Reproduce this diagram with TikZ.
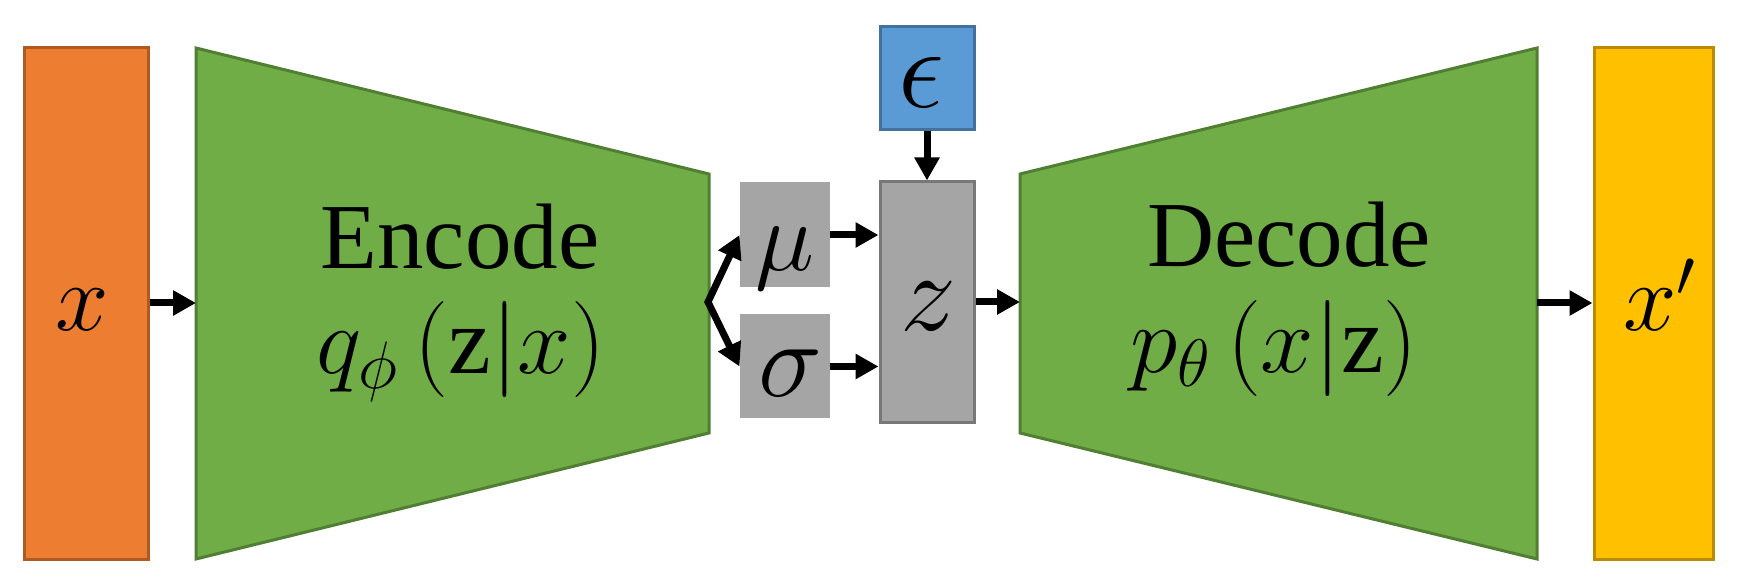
\RequirePackage{fix-cm}
\documentclass[tikz,border=0pt]{standalone}
\usepackage{fontspec}
\setmainfont{Liberation Serif}
\usetikzlibrary{arrows.meta}
\definecolor{orfill}{HTML}{ED7D31}
\definecolor{ordraw}{HTML}{AE5A21}
\definecolor{grfill}{HTML}{70AD47}
\definecolor{grdraw}{HTML}{507E32}
\definecolor{gyfill}{HTML}{A5A5A5}
\definecolor{gydraw}{HTML}{787878}
\definecolor{blfill}{HTML}{5B9BD5}
\definecolor{bldraw}{HTML}{41719C}
\definecolor{yefill}{HTML}{FFC000}
\definecolor{yedraw}{HTML}{BC8C00}
\tikzset{
  bigfont/.style={font=\fontsize{46.5pt}{54pt}\selectfont},
  fsize/.style={font=\fontsize{#1}{1.2\dimexpr#1\relax}\selectfont},
  box/.style={draw, line width=1.5pt, inner sep=0pt},
  trap/.style={fill=grfill, draw=grdraw, line width=1.5pt, line join=miter},
  txt/.style={inner sep=0pt, bigfont},
  arr/.style={line width=3.5pt, -{Triangle[length=11.5pt,width=12pt]}},
  arrtwo/.style={line width=3.5pt, line join=miter, {Triangle[length=11.5pt,width=12pt]}-{Triangle[length=11.5pt,width=12pt]}}
}
\begin{document}
\begin{tikzpicture}[x=0.5pt,y=-0.5pt]
\useasboundingbox (0,0) rectangle (1742,588);
% input x
\node[box, fill=orfill, draw=ordraw, minimum width=62pt, minimum height=255.5pt] (xin) at (86,303.5) {};
\node[txt, fsize=48pt, anchor=base] (xlab) at (82,331) {$x$};
% encoder
\draw[trap] (196,48) -- (709,174) -- (709,433) -- (196,559) -- cycle;
\coordinate (encL) at (196,303);
\coordinate (encR) at (708,302);
\node[txt, anchor=base] (enct) at (460,269) {Encode};
\node[txt, fsize=48pt, anchor=base] (encq) at (461,374) {$q_{\phi}\,(\mathrm{z}|x)$};
% mu, sigma
\node[box, fill=gyfill, draw=gyfill, minimum width=43.5pt, minimum height=51pt] (mu) at (784.5,235) {};
\node[txt, fsize=50pt, anchor=base] (mulab) at (785,271) {$\mu$};
\node[box, fill=gyfill, draw=gyfill, minimum width=43.5pt, minimum height=50.5pt] (sigma) at (784.5,366.5) {};
\node[txt, fsize=54pt, anchor=base] (sigmalab) at (790,397) {$\sigma$};
% z and epsilon
\node[box, fill=gyfill, draw=gydraw, minimum width=47pt, minimum height=120.5pt] (z) at (927,302.5) {};
\node[txt, fsize=56pt, anchor=base] (zlab) at (928,331) {$z$};
\node[box, fill=blfill, draw=bldraw, minimum width=47pt, minimum height=51.5pt] (eps) at (927,78.5) {};
\node[txt, fsize=58pt, anchor=base] (epslab) at (921,108) {$\epsilon$};
% decoder
\draw[trap] (1020,174) -- (1537,48) -- (1537,559) -- (1020,433) -- cycle;
\coordinate (decL) at (1020,302);
\coordinate (decR) at (1537,303);
\node[txt, anchor=base] (dect) at (1289,267) {Decode};
\node[txt, fsize=48pt, anchor=base] (decp) at (1274,372) {$p_{\theta}\,(x|\mathrm{z})$};
% output x'
\node[box, fill=yefill, draw=yedraw, minimum width=59.5pt, minimum height=255.5pt] (xout) at (1653.5,303.5) {};
\node[txt, fsize=48pt, anchor=base] (xoutlab) at (1660,331) {$x'$};
% connectors
\draw[arr] (xin.east |- encL) -- (encL);
\draw[arrtwo] (mu.west) -- (encR) -- (sigma.west);
\draw[arr] (mu.east) -- (mu.east -| z.west);
\draw[arr] (sigma.east) -- (sigma.east -| z.west);
\draw[arr] (eps.south) -- (z.north);
\draw[arr] (z.east |- decL) -- (decL);
\draw[arr] (decR) -- (decR -| xout.west);
\end{tikzpicture}
\end{document}
